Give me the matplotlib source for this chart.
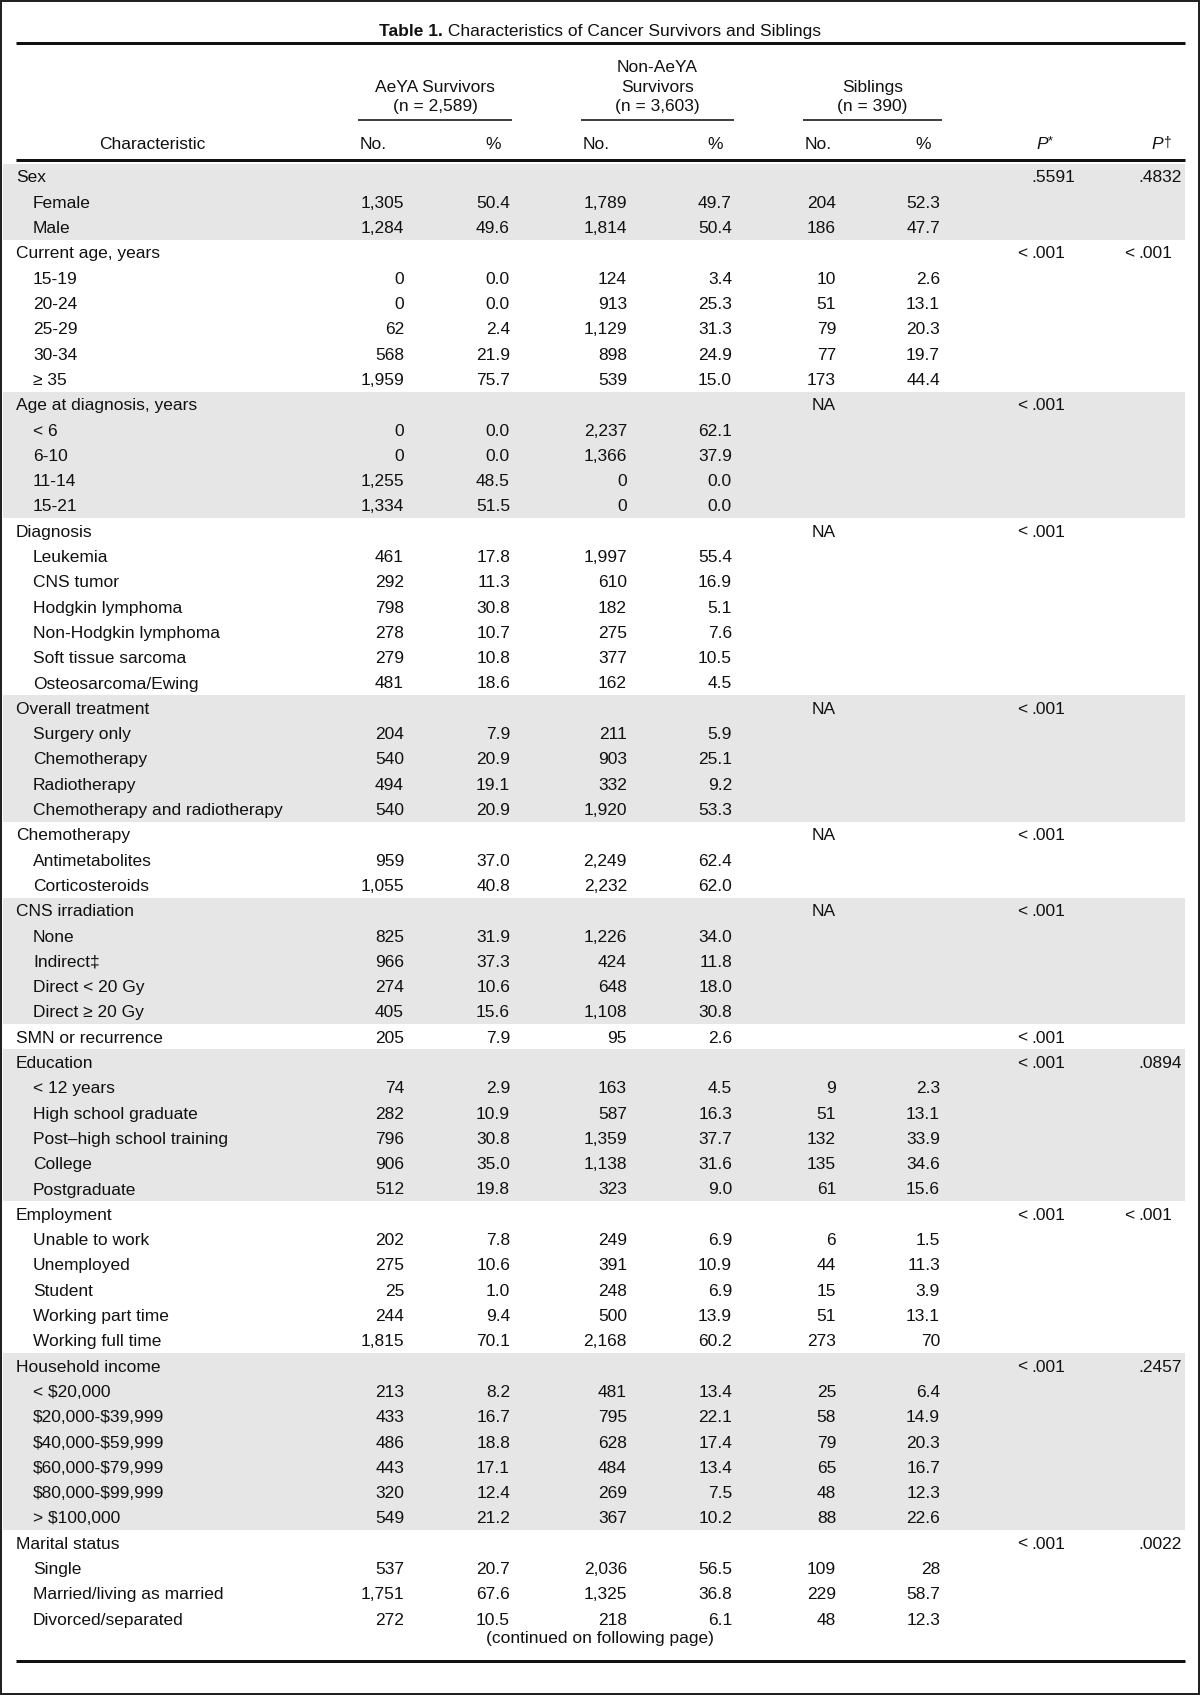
import matplotlib
matplotlib.use("Agg")
import matplotlib.pyplot as plt
from matplotlib.patches import Rectangle

# ---------------- data ----------------
title_bold = "Table 1."
title_rest = " Characteristics of Cancer Survivors and Siblings"
group_headers = [["AeYA Survivors", "(n = 2,589)"],
                 ["Non-AeYA", "Survivors", "(n = 3,603)"],
                 ["Siblings", "(n = 390)"]]
footer = "(continued on following page)"

row_labels = [
    "Sex", "Female", "Male",
    "Current age, years", "15-19", "20-24", "25-29", "30-34", "\u2265 35",
    "Age at diagnosis, years", "< 6", "6-10", "11-14", "15-21",
    "Diagnosis", "Leukemia", "CNS tumor", "Hodgkin lymphoma", "Non-Hodgkin lymphoma",
    "Soft tissue sarcoma", "Osteosarcoma/Ewing",
    "Overall treatment", "Surgery only", "Chemotherapy", "Radiotherapy",
    "Chemotherapy and radiotherapy",
    "Chemotherapy", "Antimetabolites", "Corticosteroids",
    "CNS irradiation", "None", "Indirect\u2021", "Direct < 20 Gy", "Direct \u2265 20 Gy",
    "SMN or recurrence",
    "Education", "< 12 years", "High school graduate", "Post\u2013high school training",
    "College", "Postgraduate",
    "Employment", "Unable to work", "Unemployed", "Student", "Working part time",
    "Working full time",
    "Household income", "< $20,000", "$20,000-$39,999", "$40,000-$59,999",
    "$60,000-$79,999", "$80,000-$99,999", "> $100,000",
    "Marital status", "Single", "Married/living as married", "Divorced/separated",
]
row_level = [0, 1, 1,
             0, 1, 1, 1, 1, 1,
             0, 1, 1, 1, 1,
             0, 1, 1, 1, 1, 1, 1,
             0, 1, 1, 1, 1,
             0, 1, 1,
             0, 1, 1, 1, 1,
             0,
             0, 1, 1, 1, 1, 1,
             0, 1, 1, 1, 1, 1,
             0, 1, 1, 1, 1, 1, 1,
             0, 1, 1, 1]

N = None
aeya_no = [N, 1305, 1284,
           N, 0, 0, 62, 568, 1959,
           N, 0, 0, 1255, 1334,
           N, 461, 292, 798, 278, 279, 481,
           N, 204, 540, 494, 540,
           N, 959, 1055,
           N, 825, 966, 274, 405,
           205,
           N, 74, 282, 796, 906, 512,
           N, 202, 275, 25, 244, 1815,
           N, 213, 433, 486, 443, 320, 549,
           N, 537, 1751, 272]
aeya_pct = [N, 50.4, 49.6,
            N, 0.0, 0.0, 2.4, 21.9, 75.7,
            N, 0.0, 0.0, 48.5, 51.5,
            N, 17.8, 11.3, 30.8, 10.7, 10.8, 18.6,
            N, 7.9, 20.9, 19.1, 20.9,
            N, 37.0, 40.8,
            N, 31.9, 37.3, 10.6, 15.6,
            7.9,
            N, 2.9, 10.9, 30.8, 35.0, 19.8,
            N, 7.8, 10.6, 1.0, 9.4, 70.1,
            N, 8.2, 16.7, 18.8, 17.1, 12.4, 21.2,
            N, 20.7, 67.6, 10.5]
non_no = [N, 1789, 1814,
          N, 124, 913, 1129, 898, 539,
          N, 2237, 1366, 0, 0,
          N, 1997, 610, 182, 275, 377, 162,
          N, 211, 903, 332, 1920,
          N, 2249, 2232,
          N, 1226, 424, 648, 1108,
          95,
          N, 163, 587, 1359, 1138, 323,
          N, 249, 391, 248, 500, 2168,
          N, 481, 795, 628, 484, 269, 367,
          N, 2036, 1325, 218]
non_pct = [N, 49.7, 50.4,
           N, 3.4, 25.3, 31.3, 24.9, 15.0,
           N, 62.1, 37.9, 0.0, 0.0,
           N, 55.4, 16.9, 5.1, 7.6, 10.5, 4.5,
           N, 5.9, 25.1, 9.2, 53.3,
           N, 62.4, 62.0,
           N, 34.0, 11.8, 18.0, 30.8,
           2.6,
           N, 4.5, 16.3, 37.7, 31.6, 9.0,
           N, 6.9, 10.9, 6.9, 13.9, 60.2,
           N, 13.4, 22.1, 17.4, 13.4, 7.5, 10.2,
           N, 56.5, 36.8, 6.1]
sib_no = [N, 204, 186,
          N, 10, 51, 79, 77, 173,
          "NA", N, N, N, N,
          "NA", N, N, N, N, N, N,
          "NA", N, N, N, N,
          "NA", N, N,
          "NA", N, N, N, N,
          N,
          N, 9, 51, 132, 135, 61,
          N, 6, 44, 15, 51, 273,
          N, 25, 58, 79, 65, 48, 88,
          N, 109, 229, 48]
sib_pct = [N, 52.3, 47.7,
           N, 2.6, 13.1, 20.3, 19.7, 44.4,
           N, N, N, N, N,
           N, N, N, N, N, N, N,
           N, N, N, N, N,
           N, N, N,
           N, N, N, N, N,
           N,
           N, 2.3, 13.1, 33.9, 34.6, 15.6,
           N, 1.5, 11.3, 3.9, 13.1, 70,
           N, 6.4, 14.9, 20.3, 16.7, 12.3, 22.6,
           N, 28, 58.7, 12.3]
p_star = {0: ".5591", 3: "< .001", 9: "< .001", 14: "< .001", 21: "< .001",
          26: "< .001", 29: "< .001", 34: "< .001", 35: "< .001", 41: "< .001",
          47: "< .001", 54: "< .001"}
p_dagger = {0: ".4832", 3: "< .001", 35: ".0894", 41: "< .001", 47: ".2457",
            54: ".0022"}

# ---------------- layout / style ----------------
W, H, DPI = 1200, 1695, 100
FONT = ["Liberation Sans", "DejaVu Sans"]
FS = 12.5
COL = "#111111"
SHADE = "#e6e6e6"
PX = 72.0 / DPI  # points per pixel

fig = plt.figure(figsize=(W / DPI, H / DPI), dpi=DPI)
ax = fig.add_axes([0, 0, 1, 1])
ax.set_xlim(0, W)
ax.set_ylim(H, 0)
ax.axis("off")

BL = 6  # baseline offset from row centre


def txt(x, y, s, ha="left", fs=FS, **kw):
    return ax.text(x, y + BL, s, ha=ha, va="baseline", fontsize=fs,
                   family=FONT, color=COL, parse_math=False, **kw)


def hline(y, x0, x1, lwpx):
    ax.plot([x0, x1], [y, y], color="#111111", lw=lwpx * PX,
            solid_capstyle="butt")


def fmt_no(v):
    if v is None:
        return ""
    if isinstance(v, str):
        return v
    return f"{v:,}"


def fmt_pct(v):
    if v is None:
        return ""
    if isinstance(v, int):
        return str(v)
    return f"{v:.1f}"


L, R = 16, 1185

# title
fig.canvas.draw()
renderer = fig.canvas.get_renderer()
t1 = ax.text(0, 30 + BL, title_bold, ha="left", va="baseline", fontsize=12.5,
             family=FONT, weight="bold", color=COL, parse_math=False)
t2 = ax.text(0, 30 + BL, title_rest, ha="left", va="baseline", fontsize=12.5,
             family=FONT, color=COL, parse_math=False)
w1 = t1.get_window_extent(renderer).width
w2 = t2.get_window_extent(renderer).width
x_start = 600 - (w1 + w2) / 2
t1.set_x(x_start)
t2.set_x(x_start + w1)

hline(43, L, R, 3)

# column group headers
grp_spans = [(358, 512), (581, 734), (803, 942)]
line_y = {3: [66, 86, 105], 2: [86, 105]}
for (x0, x1), lines in zip(grp_spans, group_headers):
    cx = (x0 + x1) / 2
    for s, yy in zip(lines, line_y[len(lines)]):
        txt(cx, yy, s, ha="center")
    hline(120, x0, x1, 1.6)

# column headers
HY = 143
txt(152, HY, "Characteristic", ha="center")
for (x0, x1) in grp_spans:
    txt(x0 + 2, HY, "No.", ha="left")
    txt(x1 - 11, HY, "%", ha="right")
txt(1048, HY, "P", ha="right", style="italic")
txt(1048, HY - 5, "*", ha="left", fs=9)
txt(1163, HY, "P", ha="right", style="italic")
txt(1163, HY - 2, "\u2020", ha="left", fs=10)
hline(160, L, R, 3)

# rows
Y0, P = 176.5, 25.3
ys = [Y0 + i * P for i in range(len(row_labels))]

# shading of alternate groups
groups = []
for i, lev in enumerate(row_level):
    if lev == 0:
        groups.append([i, i])
    else:
        groups[-1][1] = i
for g, (a, b) in enumerate(groups):
    if g % 2 == 0:
        top = ys[a] - P / 2
        bot = ys[b] + P / 2
        ax.add_patch(Rectangle((3, top), R - 3, bot - top, facecolor=SHADE,
                               edgecolor="none", zorder=0))

X_AEYA_NO, X_AEYA_PCT = 404, 510
X_NON_NO, X_NON_PCT = 627, 732
X_SIB_NO, X_SIB_PCT = 836, 940
X_PS_DEC, X_PD_DEC = 1031, 1138


def dec(xd, y, s):
    i = s.index(".")
    pre = s[:i].strip()
    if pre:
        txt(xd - 4, y, pre, ha="right")
    txt(xd, y, s[i:], ha="left")


for i, lab in enumerate(row_labels):
    y = ys[i]
    txt(L + (17 if row_level[i] else 0), y, lab, ha="left")
    txt(X_AEYA_NO, y, fmt_no(aeya_no[i]), ha="right")
    txt(X_AEYA_PCT, y, fmt_pct(aeya_pct[i]), ha="right")
    txt(X_NON_NO, y, fmt_no(non_no[i]), ha="right")
    txt(X_NON_PCT, y, fmt_pct(non_pct[i]), ha="right")
    txt(X_SIB_NO, y, fmt_no(sib_no[i]), ha="right")
    txt(X_SIB_PCT, y, fmt_pct(sib_pct[i]), ha="right")
    if i in p_star:
        dec(X_PS_DEC, y, p_star[i])
    if i in p_dagger:
        dec(X_PD_DEC, y, p_dagger[i])

txt(600, 1637, footer, ha="center")
hline(1661, L, R, 3)

# outer frame
ax.add_patch(Rectangle((1, 1), W - 2, H - 2, facecolor="none",
                       edgecolor="#222222", lw=2 * PX, zorder=5))

fig.savefig("out.png", dpi=DPI)
